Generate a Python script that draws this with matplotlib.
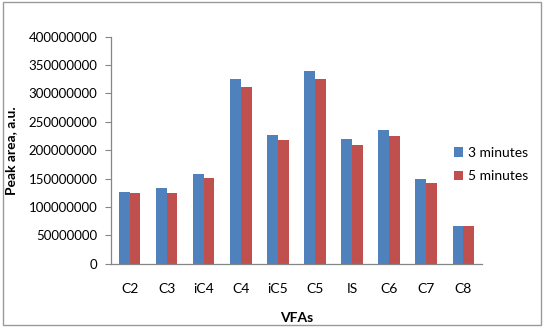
import matplotlib
matplotlib.use("Agg")
import matplotlib.pyplot as plt
import numpy as np
from matplotlib.patches import Rectangle

plt.rcParams['font.family'] = ['Lato', 'DejaVu Sans']

# data (peak area, a.u.)
vfas = ['C2', 'C3', 'iC4', 'C4', 'iC5', 'C5', 'IS', 'C6', 'C7', 'C8']
min3 = [126e6, 134e6, 158.5e6, 326e6, 227e6, 340e6, 219.5e6, 235e6, 149.5e6, 67.5e6]
min5 = [124e6, 125.5e6, 150.5e6, 311.5e6, 218e6, 326e6, 209.5e6, 225e6, 141.5e6, 66.5e6]
yticks = np.arange(0, 400000001, 50000000)

fig = plt.figure(figsize=(5.46, 3.27), dpi=100)
ax = fig.add_axes([0.204, 0.193, 0.678, 0.695])

x = np.arange(len(vfas))
w = 0.285
ax.bar(x - w/2, min3, w, color='#4F81BD', label='3 minutes')
ax.bar(x + w/2, min5, w, color='#C0504D', label='5 minutes')

ax.set_xlim(-0.5, len(vfas) - 0.5)
ax.set_ylim(0, 400000000)
ax.set_yticks(yticks)
ax.set_yticklabels([str(int(v)) for v in yticks], fontsize=9.5)
ax.set_xticks(x)
ax.set_xticklabels(vfas, fontsize=10)
ax.tick_params(axis='x', length=0, pad=14)
ax.tick_params(axis='y', length=4, width=0.8, color='#868686', pad=6)

for s in ['top', 'right']:
    ax.spines[s].set_visible(False)
for s in ['left', 'bottom']:
    ax.spines[s].set_color('#868686')
    ax.spines[s].set_linewidth(0.9)

ax.set_ylabel('Peak area, a.u.', fontsize=10, fontweight='bold')
ax.yaxis.set_label_coords(-0.255, 0.5)
ax.set_xlabel('VFAs', fontsize=10, fontweight='bold', labelpad=12)

ax.legend(loc='center left', bbox_to_anchor=(0.831, 0.497), bbox_transform=fig.transFigure,
          frameon=False, fontsize=10, handlelength=0.7, handleheight=0.7,
          handletextpad=0.3, labelspacing=0.85, borderaxespad=0, borderpad=0)

fig.patches.append(Rectangle((0.006, 0.005), 0.985, 0.988, transform=fig.transFigure,
                             fill=False, edgecolor='#9a9a9a', linewidth=1.0))

fig.savefig('out.png', dpi=100)
